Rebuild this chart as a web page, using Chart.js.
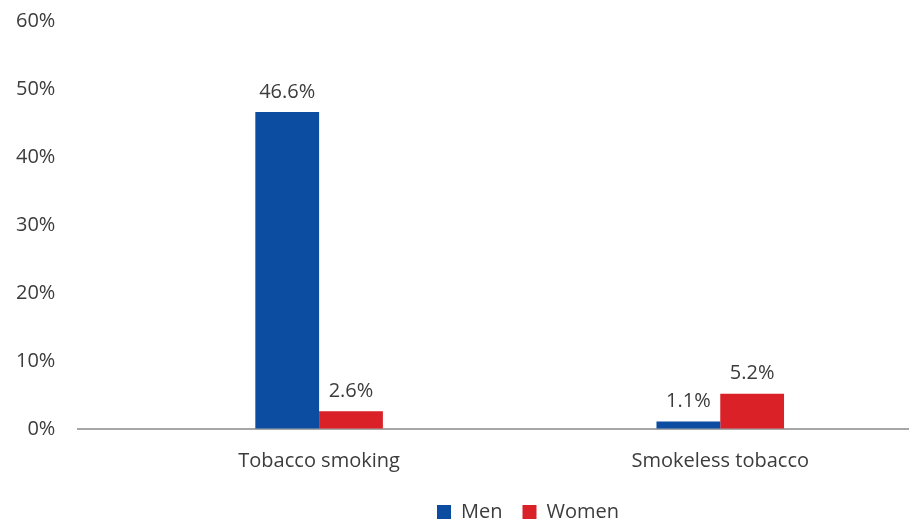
<!DOCTYPE html>
<html>
<head>
<meta charset="utf-8">
<script src="https://cdn.jsdelivr.net/npm/chart.js@4"></script>
<style>
  html, body { margin: 0; padding: 0; background: #fff; }
  #wrap { width: 909px; height: 522px; }
</style>
</head>
<body>
<div id="wrap"><canvas id="chart" width="909" height="522"></canvas></div>
<script>
const categories = ['Tobacco smoking', 'Smokeless tobacco']
const menValues = [46.6, 1.1]
const womenValues = [2.6, 5.2]
const yTicks = [0, 10, 20, 30, 40, 50, 60]

const textColor = '#3c3c3c'
const fontFamily = '"Open Sans", "Noto Sans", sans-serif'
const fontSize = 20

// Categories on a linear axis so the bar groups land where the original has them
function toPoints(values) {
    return values.map((v, i) => ({ x: i, y: v }))
}

// Draw the value above each bar
const valueLabels = {
    id: 'valueLabels',
    afterDatasetsDraw(chart) {
        const ctx = chart.ctx
        ctx.save()
        ctx.font = fontSize + 'px ' + fontFamily
        ctx.fillStyle = textColor
        ctx.textAlign = 'center'
        ctx.textBaseline = 'middle'
        chart.data.datasets.forEach((ds, di) => {
            const meta = chart.getDatasetMeta(di)
            meta.data.forEach((bar, i) => {
                ctx.fillText(ds.data[i].y.toFixed(1) + '%', bar.x, bar.y - 20)
            })
        })
        ctx.restore()
    }
}

// Move the legend a little right and down, like the original
const shiftLegend = {
    id: 'shiftLegend',
    afterLayout(chart) {
        chart.legend.left += 66
        chart.legend.right += 66
        chart.legend.top += 9
        chart.legend.bottom += 9
    }
}

new Chart(document.getElementById('chart'), {
    type: 'bar',
    data: {
        datasets: [
            {
                label: 'Men',
                data: toPoints(menValues),
                backgroundColor: '#0c4da2'
            },
            {
                label: 'Women',
                data: toPoints(womenValues),
                backgroundColor: '#da2128'
            }
        ]
    },
    options: {
        responsive: false,
        animation: false,
        devicePixelRatio: 1,
        categoryPercentage: 0.318,
        barPercentage: 1,
        layout: {
            padding: { left: 16, right: 1, top: 21, bottom: -1 }
        },
        scales: {
            x: {
                type: 'linear',
                min: -0.6,
                max: 1.468,
                offset: false,
                afterBuildTicks(scale) {
                    scale.ticks = categories.map((c, i) => ({ value: i }))
                },
                grid: { display: true, drawOnChartArea: false, drawTicks: true, tickLength: 20, color: 'transparent' },
                border: { color: '#a6a6a6', width: 2 },
                ticks: {
                    color: textColor,
                    font: { size: fontSize, family: fontFamily },
                    padding: 0,
                    maxRotation: 0,
                    callback: (v) => categories[v]
                }
            },
            y: {
                min: 0,
                max: 60,
                afterBuildTicks(scale) {
                    scale.ticks = yTicks.map((v) => ({ value: v }))
                },
                grid: { display: true, drawOnChartArea: false, drawTicks: true, tickLength: 23, color: 'transparent' },
                border: { display: false },
                ticks: {
                    color: textColor,
                    font: { size: fontSize, family: fontFamily },
                    padding: 0,
                    callback: (v) => v + '%'
                }
            }
        },
        plugins: {
            legend: {
                position: 'bottom',
                labels: {
                    color: textColor,
                    font: { size: fontSize, family: fontFamily },
                    boxWidth: 14,
                    boxHeight: 14,
                    padding: 20
                }
            },
            tooltip: { enabled: false }
        }
    },
    plugins: [valueLabels, shiftLegend]
})
</script>
</body>
</html>
